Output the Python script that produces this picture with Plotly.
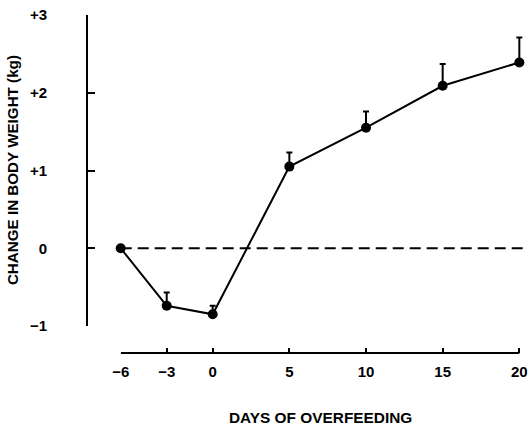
import plotly.graph_objects as go

days = [-6, -3, 0, 5, 10, 15, 20]
weight_change = [0.0, -0.74, -0.85, 1.05, 1.55, 2.09, 2.39]
sem_upper = [0.0, 0.17, 0.11, 0.18, 0.21, 0.28, 0.32]
sem_lower = [0, 0, 0, 0, 0, 0, 0]
baseline_x = [-6, 20.5]
baseline_y = [0, 0]
x_ticks = [-6, -3, 0, 5, 10, 15, 20]
x_ticktext = ["\u22126", "\u22123", "0", "5", "10", "15", "20"]
y_ticks = [-1, 0, 1, 2, 3]
y_ticktext = ["\u22121", "0", "+1", "+2", "+3"]

FONT = "Liberation Sans, Arial, sans-serif"

fig = go.Figure()
fig.add_trace(go.Scatter(
    x=baseline_x, y=baseline_y, mode="lines",
    line=dict(color="black", width=1.8, dash="11px,6px"),
    hoverinfo="skip", showlegend=False,
))
fig.add_trace(go.Scatter(
    x=days, y=weight_change, mode="lines+markers",
    line=dict(color="black", width=2),
    marker=dict(color="black", size=10),
    error_y=dict(type="data", symmetric=False, array=sem_upper,
                 arrayminus=sem_lower, color="black", thickness=2, width=3),
    cliponaxis=False, showlegend=False,
))

# x-axis line spanning the labelled day range
fig.add_shape(type="line", xref="x", yref="paper",
              x0=x_ticks[0], x1=x_ticks[-1], y0=0, y1=0,
              line=dict(color="black", width=2))

fig.update_layout(
    width=529, height=427,
    margin=dict(l=87, r=2, t=15, b=74),
    paper_bgcolor="white", plot_bgcolor="white",
    font=dict(family=FONT, color="black", size=14, weight="bold"),
    xaxis=dict(
        range=[-6, 20.5], domain=[0.0766, 1], anchor="free", position=0,
        showline=False, showgrid=False, zeroline=False,
        ticks="inside", ticklen=5, tickwidth=2, tickcolor="black",
        tickvals=x_ticks, ticktext=x_ticktext,
        tickfont=dict(family=FONT, size=15, weight="bold"),
        ticklabelstandoff=8,
    ),
    yaxis=dict(
        range=[-1, 3], domain=[0.0799, 1], anchor="free", position=0,
        showline=True, linecolor="black", linewidth=2,
        showgrid=False, zeroline=False,
        ticks="inside", ticklen=7, tickwidth=2, tickcolor="black",
        tickvals=y_ticks, ticktext=y_ticktext,
        tickfont=dict(family=FONT, size=15, weight="bold"),
        ticklabelstandoff=36,
    ),
    annotations=[
        dict(text="DAYS OF OVERFEEDING", xref="paper", yref="paper",
             x=0.531, y=-0.192, xanchor="center", yanchor="middle",
             showarrow=False, font=dict(family=FONT, size=15.4, weight="bold")),
        dict(text="CHANGE IN BODY WEIGHT (kg)", xref="paper", yref="paper",
             x=-0.169, y=0.54, xanchor="center", yanchor="middle",
             textangle=-90, showarrow=False,
             font=dict(family=FONT, size=15.2, weight="bold")),
    ],
)

fig.write_html(
    "out.html",
    config={"displayModeBar": False},
    post_script="document.body.style.margin='0';document.body.style.overflow='hidden';",
)
